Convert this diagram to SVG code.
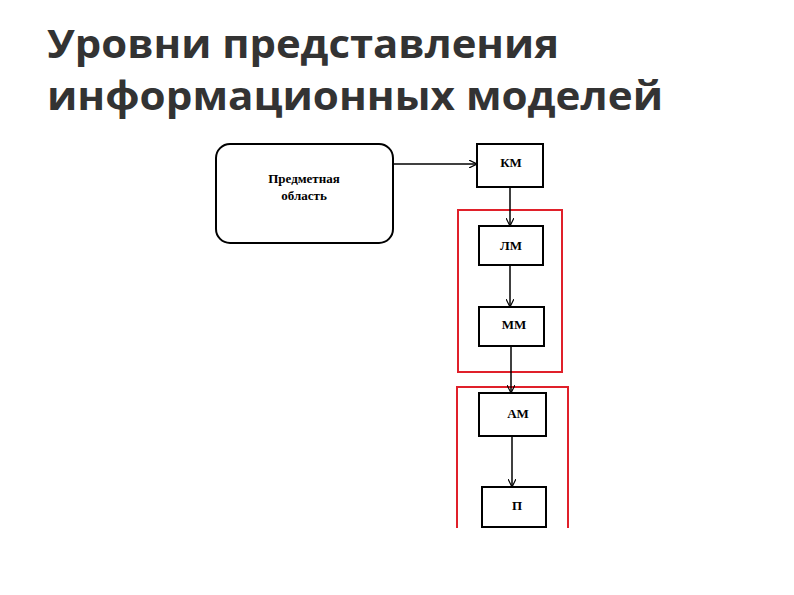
<svg xmlns="http://www.w3.org/2000/svg" width="794" height="595" viewBox="0 0 794 595">
<defs>
<style>
.t{font-family:"Open Sans","DejaVu Sans",sans-serif;font-weight:bold;font-size:40px;fill:#333}
.n{fill:#fff;stroke:#000;stroke-width:2}
.l{font-family:"Liberation Serif",serif;font-weight:bold;font-size:13px;fill:#000;text-anchor:middle}
.r{fill:none;stroke:#e0202a;stroke-width:2}
.c{stroke:#000;stroke-width:1.5;fill:none;marker-end:url(#a)}
</style>
<marker id="a" viewBox="0 0 10 10" refX="10" refY="5" markerWidth="8" markerHeight="8" orient="auto" markerUnits="userSpaceOnUse"><path d="M0,0 L10,5 L0,10" fill="none" stroke="#000" stroke-width="1.5"/></marker>
</defs>
<rect width="794" height="595" fill="#fff"/>
<text class="t" x="47" y="58" textLength="512" lengthAdjust="spacingAndGlyphs">Уровни представления</text>
<text class="t" x="47" y="110" textLength="616" lengthAdjust="spacingAndGlyphs">информационных моделей</text>
<path class="r" d="M458,210 H562 V372 H458 Z"/>
<path class="r" d="M457,528 V387 H568 V528"/>
<g id="po"><rect class="n" x="216" y="144" width="177" height="99" rx="14"/><text class="l" x="304" y="183">Предметная</text><text class="l" x="304" y="200">область</text></g>
<g id="km"><rect class="n" x="477" y="144" width="66" height="43"/><text class="l" x="511" y="167">КМ</text></g>
<g id="lm"><rect class="n" x="479" y="226" width="64" height="39"/><text class="l" x="511" y="250">ЛМ</text></g>
<g id="mm"><rect class="n" x="479" y="307" width="65" height="39"/><text class="l" x="514" y="329">ММ</text></g>
<g id="am"><rect class="n" x="479" y="393" width="67" height="43"/><text class="l" x="518" y="418">АМ</text></g>
<g id="p"><rect class="n" x="482" y="487" width="64" height="40"/><text class="l" x="517" y="510">П</text></g>
<g id="connectors">
<path class="c" d="M393,164 H477"/>
<path class="c" d="M510,187 V226"/>
<path class="c" d="M510,265 V307"/>
<path class="c" d="M511,346 V393"/>
<path class="c" d="M512,436 V487"/>
</g>
</svg>
